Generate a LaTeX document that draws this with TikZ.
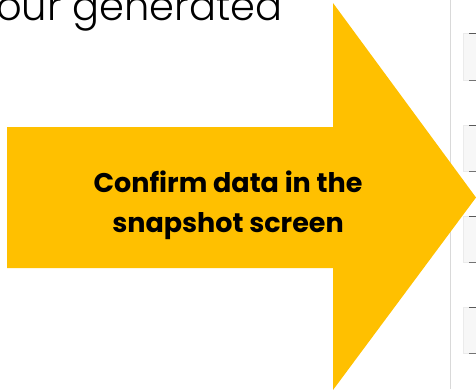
\documentclass[tikz,border=0pt]{standalone}
\usepackage{fontspec}
\setmainfont{Poppins}
\newfontfamily\lightfont{Poppins Light}
\usetikzlibrary{positioning}
\definecolor{stepyellow}{HTML}{FFC000}
\tikzset{
  bigarrow/.style={fill=stepyellow,draw=none},
  steptext/.style={font=\fontsize{27}{37}\selectfont\bfseries,align=center,inner sep=0pt},
  fieldbox/.style={fill=black!3,draw=black!8,line width=0.5pt},
}

\begin{document}
\begin{tikzpicture}[x=1pt,y=-1pt]
\useasboundingbox (0,0) rectangle (476,389);
\begin{scope}
\clip (0,0) rectangle (476,389);

% heading, cut off at the top
\node[anchor=base west,inner sep=0pt,font=\lightfont\fontsize{40}{40}\selectfont] (head) at (-4,20) {our generated};

% screen edge on the right
\draw[black!15,line width=1pt] (450,0) -- (450,389);
\foreach \t/\b in {33/80,125/171,216/262,307/353}{
  \filldraw[fieldbox] (463,\t) rectangle (478,\b);
  \draw[black!65,line width=0.8pt] (469,\t) -- (476,\t);
  \draw[black!55,line width=0.8pt] (469,\b) -- (476,\b);
}

% the arrow
\fill[bigarrow] (7,127) -- (333,127) -- (333,3) -- (476,197.5) -- (333,390) -- (333,268) -- (7,268) -- cycle;
\node[steptext] (step) at (228,205) {Confirm data in the\\[3pt]snapshot screen};
\end{scope}
\end{tikzpicture}
\end{document}
